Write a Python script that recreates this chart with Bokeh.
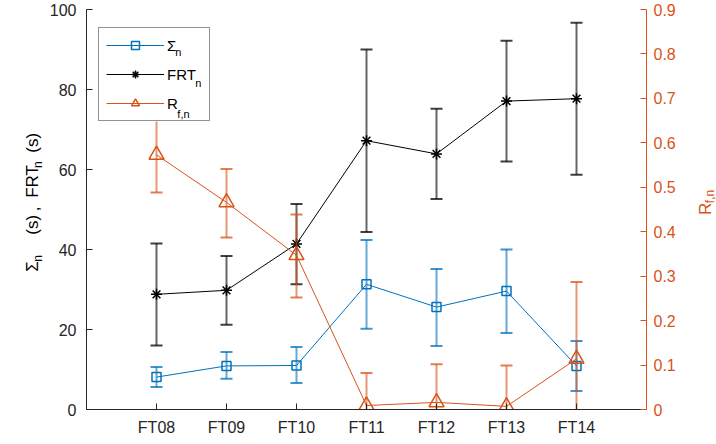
import numpy as np
from bokeh.plotting import figure
from bokeh.layouts import row
from bokeh.models import (Range1d, LinearAxis, FixedTicker, Legend, LegendItem,
                          NumeralTickFormatter)
from bokeh.core.properties import value
from bokeh.embed import file_html
from bokeh.resources import INLINE

# ---------------- data ----------------
categories = ["FT08", "FT09", "FT10", "FT11", "FT12", "FT13", "FT14"]

sigma_mean = [8.1, 10.9, 11.0, 31.3, 25.6, 29.6, 10.9]
sigma_low = [5.6, 7.7, 6.6, 20.2, 15.9, 19.1, 4.6]
sigma_high = [10.6, 14.4, 15.6, 42.4, 35.1, 40.0, 17.1]

frt_mean = [28.8, 29.8, 41.4, 67.2, 63.9, 77.1, 77.7]
frt_low = [16.0, 21.2, 31.3, 44.4, 52.6, 62.0, 58.7]
frt_high = [41.5, 38.4, 51.4, 90.0, 75.2, 92.2, 96.7]

rf_mean = [0.573, 0.466, 0.347, 0.009, 0.016, 0.007, 0.114]
rf_low = [0.488, 0.387, 0.252, -0.064, -0.070, -0.085, -0.059]
rf_high = [0.658, 0.541, 0.439, 0.082, 0.102, 0.099, 0.287]

left_ticks = [0, 20, 40, 60, 80, 100]
right_ticks = [0, 0.1, 0.2, 0.3, 0.4, 0.5, 0.6, 0.7, 0.8, 0.9]

# ---------------- styling ----------------
BLUE = "#0072BD"
ORANGE = "#D95319"
BLACK = "#000000"
AXIS = "#262626"
FONT = "Liberation Sans"

W, H = 716, 444
LW, RW = 46, 28                    # widths of the two label strips
FL, FR, FT, FB = 85, 646, 9, 409   # frame edges in page pixels
MAIN_W = W - LW - RW

x = list(range(1, len(categories) + 1))
XMAX = len(categories) + 1
YMAX = 100

p = figure(width=MAIN_W, height=H, output_backend="svg", toolbar_location=None,
           title=None, x_range=Range1d(0, XMAX), y_range=Range1d(0, YMAX),
           min_border_left=FL - LW, min_border_right=(W - RW) - FR,
           min_border_top=FT, min_border_bottom=H - FB)
p.outline_line_color = None
p.xgrid.visible = False
p.ygrid.visible = False

p.extra_y_ranges = {"r": Range1d(0, 0.9)}
raxis = LinearAxis(y_range_name="r", ticker=FixedTicker(ticks=right_ticks),
                   formatter=NumeralTickFormatter(format="0.[0]"))
p.add_layout(raxis, "right")

p.xaxis.ticker = FixedTicker(ticks=x)
p.xaxis.major_label_overrides = {i: c for i, c in zip(x, categories)}
p.yaxis[0].ticker = FixedTicker(ticks=left_ticks)

for ax, col in ((p.xaxis[0], AXIS), (p.yaxis[0], AXIS), (raxis, ORANGE)):
    ax.axis_line_color = col
    ax.major_tick_line_color = col
    ax.major_label_text_color = col
    ax.major_tick_in = 6
    ax.major_tick_out = 0
    ax.minor_tick_line_color = None
    ax.major_label_text_font = FONT
    ax.major_label_text_font_size = "16px"
p.xaxis.major_label_standoff = 9
p.yaxis[0].major_label_standoff = 10
raxis.major_label_standoff = 7


def series(mean, low, high, color, marker, msize, yr="default"):
    kw = {} if yr == "default" else {"y_range_name": yr}
    p.segment(x0=x, y0=low, x1=x, y1=high, line_color=color, line_width=2,
              line_alpha=0.6, **kw)
    for yy in (low, high):
        p.scatter(x, yy, marker="dash", size=12, line_color=color, line_width=2,
                  line_alpha=0.75, **kw)
    ln = p.line(x, mean, line_color=color, line_width=1, **kw)
    mk = p.scatter(x, mean, marker=marker, size=msize, line_color=color,
                   fill_color=None, line_width=1.5, **kw)
    return ln, mk


s_ln, s_mk = series(sigma_mean, sigma_low, sigma_high, BLUE, "square", 9)
f_ln, f_mk = series(frt_mean, frt_low, frt_high, BLACK, "asterisk", 11)
r_ln, r_mk = series(rf_mean, rf_low, rf_high, ORANGE, "triangle", 15, "r")


# page pixels -> data coordinates of the main frame (for legend decoration)
def px2d(X, Y):
    return ((X - FL) / (FR - FL) * XMAX, (FB - Y) / (FB - FT) * YMAX)


# legend box: white backing drawn as a glyph so the subscripts can sit on it
LB_L, LB_R, LB_T, LB_B = 97, 207, 25, 121
(bx0, by0), (bx1, by1) = px2d(LB_L, LB_B), px2d(LB_R, LB_T)
p.quad(left=[bx0], right=[bx1], bottom=[by0], top=[by1], fill_color="white",
       line_color=None)

legend = Legend(items=[LegendItem(label="Σ", renderers=[s_ln, s_mk]),
                       LegendItem(label="FRT", renderers=[f_ln, f_mk]),
                       LegendItem(label="R", renderers=[r_ln, r_mk])],
                location=(LB_L - FL, FB - LB_B), padding=7, spacing=9,
                glyph_width=58, glyph_height=20, label_height=20, label_width=35,
                label_standoff=3, margin=0,
                label_text_font=FONT, label_text_font_size="15px",
                label_text_color=BLACK, border_line_color=AXIS,
                border_line_width=1, background_fill_alpha=0.0)
p.add_layout(legend)

sub_txt = ["n", "n", "f,n"]
sub_pos = [px2d(174, 51), px2d(194, 82), px2d(176, 113)]
p.text(x=[q[0] for q in sub_pos], y=[q[1] for q in sub_pos], text=sub_txt,
       text_font=value(FONT), text_font_size=value("11px"), text_color=BLACK,
       text_baseline="alphabetic", text_align="left")


# ---------------- label strips (real text, page-pixel coordinates) ----------------
def strip(width):
    f = figure(width=width, height=H, output_backend="svg", toolbar_location=None,
               title=None, x_range=Range1d(0, width), y_range=Range1d(0, H),
               x_axis_type=None, y_axis_type=None, min_border=0)
    f.outline_line_color = None
    return f


A = np.pi / 2
left = strip(LW)
main_txt = ["Σ", "(s)", ",", "FRT", "(s)"]
main_y = [291, 250, 224, 209, 159]
left.text(x=[32] * len(main_txt), y=[H - v for v in main_y], text=main_txt, angle=A,
          text_font=value(FONT), text_font_size=value("17px"), text_color=BLACK,
          text_baseline="alphabetic", text_align="left")
sub_y = [280, 176]
left.text(x=[37] * 2, y=[H - v for v in sub_y], text=["n", "n"], angle=A,
          text_font=value(FONT), text_font_size=value("12px"), text_color=BLACK,
          text_baseline="alphabetic", text_align="left")

right = strip(RW)
rx0 = W - RW
right.text(x=[705 - rx0], y=[H - 228], text=["R"], angle=A,
           text_font=value(FONT), text_font_size=value("17px"), text_color=ORANGE,
           text_baseline="alphabetic", text_align="left")
right.text(x=[709 - rx0], y=[H - 215], text=["f,n"], angle=A,
           text_font=value(FONT), text_font_size=value("12px"), text_color=ORANGE,
           text_baseline="alphabetic", text_align="left")

layout = row(left, p, right, spacing=0)
open("out.html", "w").write(file_html(layout, INLINE))
